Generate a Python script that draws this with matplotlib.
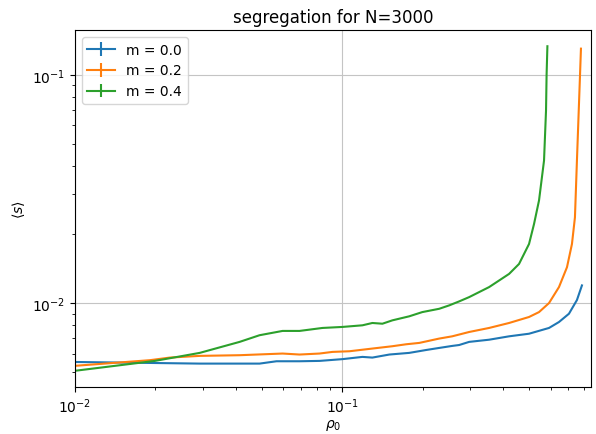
import matplotlib
matplotlib.use("Agg")
import matplotlib.pyplot as plt

# m = 0.0
rho_m00 = [0.0100, 0.0293, 0.0490, 0.0567, 0.0691, 0.0821, 0.1000, 0.1188, 0.1294,
           0.1498, 0.1778, 0.2058, 0.2301, 0.2573, 0.2732, 0.2978, 0.3536, 0.4199,
           0.4986, 0.5922, 0.6452, 0.7031, 0.7531, 0.7863]
s_m00 = [0.00552, 0.00543, 0.00543, 0.00556, 0.00556, 0.00558, 0.00568, 0.00581, 0.00577,
         0.00595, 0.00605, 0.00623, 0.00636, 0.00649, 0.00655, 0.00676, 0.00691, 0.00715,
         0.00734, 0.00778, 0.00826, 0.00898, 0.01031, 0.01195]

# m = 0.2
rho_m02 = [0.0100, 0.01905, 0.02262, 0.02927, 0.04127, 0.05973, 0.06912, 0.08207, 0.09178,
           0.1062, 0.1294, 0.1537, 0.1733, 0.1938, 0.2301, 0.2573, 0.2978, 0.3536,
           0.4199, 0.4986, 0.5434, 0.5922, 0.6452, 0.6913, 0.7215, 0.7403, 0.7531,
           0.7727, 0.7796]
s_m02 = [0.00531, 0.00562, 0.00577, 0.00587, 0.00591, 0.00601, 0.00595, 0.00601, 0.00611,
         0.00615, 0.00632, 0.00647, 0.00660, 0.00669, 0.00699, 0.00715, 0.00747, 0.00778,
         0.00818, 0.00869, 0.00913, 0.0100, 0.01175, 0.01436, 0.01815, 0.02374, 0.04211,
         0.09703, 0.1302]

# m = 0.4
rho_m04 = [0.0100, 0.0199, 0.02927, 0.04127, 0.04900, 0.05973, 0.06912, 0.0842, 0.1000,
           0.1188, 0.1294, 0.1411, 0.1537, 0.1778, 0.1989, 0.2301, 0.2508, 0.2732,
           0.2978, 0.3536, 0.4199, 0.4575, 0.4986, 0.5205, 0.5434, 0.5673, 0.5771,
           0.5800, 0.5840]
s_m04 = [0.00505, 0.00558, 0.00605, 0.00676, 0.00723, 0.00755, 0.00755, 0.00778, 0.00786,
         0.00799, 0.00818, 0.00812, 0.00840, 0.00875, 0.00913, 0.00944, 0.00977, 0.01017,
         0.01062, 0.01175, 0.01342, 0.01484, 0.01815, 0.02220, 0.02817, 0.04211, 0.06964,
         0.1003, 0.1334]

series = [("m = 0.0", rho_m00, s_m00),
          ("m = 0.2", rho_m02, s_m02),
          ("m = 0.4", rho_m04, s_m04)]

fig = plt.figure(figsize=(5.96, 4.35), dpi=100)
ax = fig.add_axes([0.1258, 0.1080, 0.8658, 0.8207])

for label, rho, s in series:
    ax.errorbar(rho, s, yerr=0, label=label)

ax.set_xscale("log")
ax.set_yscale("log")
ax.set_xlim(0.01, 0.85)
ax.grid(True, color="#c4c4c4")
ax.set_xlabel(r"$\rho_0$", labelpad=1)
ax.set_ylabel(r"$\langle s \rangle$")
ax.set_title("segregation for N=3000")
ax.legend(loc="upper left")

fig.savefig("out.png", dpi=100)
